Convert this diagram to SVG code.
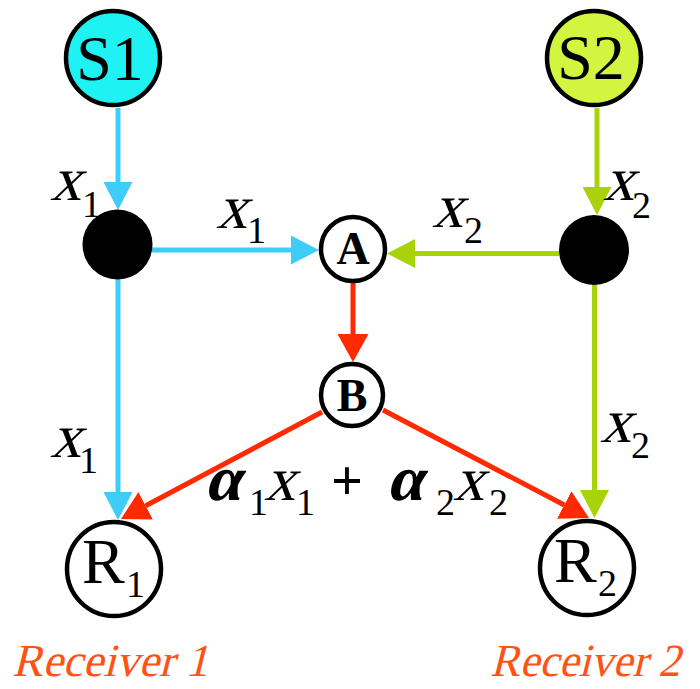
<svg xmlns="http://www.w3.org/2000/svg" width="700" height="689" viewBox="0 0 700 689" font-family="'Liberation Serif', 'Times New Roman', serif">
<style>
.t{font-family:'Liberation Serif','Times New Roman',serif}
.node{stroke:#000;stroke-width:4.5}
.big{font-size:64px}
.bold{font-size:46px;font-weight:bold}
.it{font-size:62px}
.sub{font-size:38px}
.alpha{font-weight:bold;font-size:64px}
.rcv{font-size:46px;fill:#FF5214}
.blue{stroke:#40CCF8;stroke-width:5;fill:none}
.green{stroke:#A8D20A;stroke-width:5;fill:none}
.red{stroke:#FF2A00;stroke-width:5;fill:none}
</style>
<defs>
<marker id="ab" markerUnits="userSpaceOnUse" markerWidth="28" markerHeight="29" viewBox="0 0 28 29" refX="0" refY="14.5" orient="auto"><path d="M0,0 L28,14.5 L0,29Z" fill="#40CCF8"/></marker>
<marker id="ag" markerUnits="userSpaceOnUse" markerWidth="28" markerHeight="29" viewBox="0 0 28 29" refX="0" refY="14.5" orient="auto"><path d="M0,0 L28,14.5 L0,29Z" fill="#A8D20A"/></marker>
<marker id="ar" markerUnits="userSpaceOnUse" markerWidth="28" markerHeight="31" viewBox="0 0 28 31" refX="0" refY="15.5" orient="auto"><path d="M0,0 L28,15.5 L0,31Z" fill="#FF2A00"/></marker>
</defs>
<g id="connectors">
<path class="blue" d="M118,108 L118,182" marker-end="url(#ab)"/>
<path class="blue" d="M152,250 L291,250" marker-end="url(#ab)"/>
<path class="blue" d="M118,279 L118,492" marker-end="url(#ab)"/>
<path class="green" d="M597,108 L597,187" marker-end="url(#ag)"/>
<path class="green" d="M559,253.5 L415,253.5" marker-end="url(#ag)"/>
<path class="green" d="M594.5,285 L594.5,490" marker-end="url(#ag)"/>
<path class="red" d="M353,283 L353,334" marker-end="url(#ar)"/>
<path class="red" d="M322,412 L145.7,505.8" marker-end="url(#ar)"/>
<path class="red" d="M383,410 L564.2,505" marker-end="url(#ar)"/>
</g>
<g id="S1"><circle class="node" cx="113" cy="58" r="47" fill="#1FF2F2"/><text class="t big" x="110" y="80" text-anchor="middle">S1</text></g>
<g id="S2"><circle class="node" cx="594" cy="58" r="47" fill="#D4F53F"/><text class="t big" x="591" y="79" text-anchor="middle">S2</text></g>
<g id="J1"><circle cx="117.5" cy="244.5" r="35" fill="#000"/></g>
<g id="J2"><circle cx="594" cy="250" r="35" fill="#000"/></g>
<g id="A"><circle class="node" cx="353" cy="249" r="32" fill="#fff"/><text class="t bold" x="353" y="264" text-anchor="middle">A</text></g>
<g id="B"><circle class="node" cx="352" cy="395" r="31" fill="#fff"/><text class="t bold" x="352" y="411" text-anchor="middle">B</text></g>
<g id="R1"><circle class="node" cx="114" cy="569" r="47" fill="#fff"/><text class="t big" x="82" y="583">R</text><text class="t sub" x="126" y="597">1</text></g>
<g id="R2"><circle class="node" cx="587" cy="568" r="47" fill="#fff"/><text class="t big" x="554" y="582">R</text><text class="t sub" x="598" y="596">2</text></g>
<g id="labels">
<text class="t it" transform="translate(50,200) skewX(-16)">x</text><text class="t sub" x="82" y="217">1</text>
<text class="t it" transform="translate(216,228) skewX(-16)">x</text><text class="t sub" x="247" y="243">1</text>
<text class="t it" transform="translate(432,227) skewX(-16)">x</text><text class="t sub" x="464" y="243">2</text>
<text class="t it" transform="translate(603,200) skewX(-16)">x</text><text class="t sub" x="632" y="218">2</text>
<text class="t it" transform="translate(50,457) skewX(-16)">x</text><text class="t sub" x="79" y="473">1</text>
<text class="t it" transform="translate(600,442) skewX(-16)">x</text><text class="t sub" x="631" y="458">2</text>
<text class="t alpha" transform="translate(204,500) skewX(-14)">α</text><text class="t sub" x="249" y="515">1</text>
<text class="t it" transform="translate(264,500) skewX(-16)">x</text><text class="t sub" x="296" y="515">1</text>
<text class="t" x="331" y="500" style="font-size:56px;font-weight:bold">+</text>
<text class="t alpha" transform="translate(386,500) skewX(-14)">α</text><text class="t sub" x="436" y="515">2</text>
<text class="t it" transform="translate(453,500) skewX(-16)">x</text><text class="t sub" x="489" y="515">2</text>
</g>
<g id="receivers">
<text class="t rcv" transform="translate(12,676) skewX(-14)" textLength="196" lengthAdjust="spacingAndGlyphs">Receiver 1</text>
<text class="t rcv" transform="translate(490,676) skewX(-14)" textLength="190" lengthAdjust="spacingAndGlyphs">Receiver 2</text>
</g>
</svg>
